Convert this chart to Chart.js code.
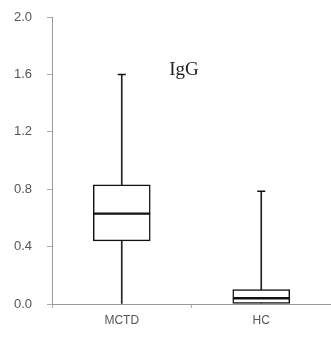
<!DOCTYPE html>
<html lang="en">
<head>
  <meta charset="UTF-8">
  <title>IgG box plot</title>
  <script src="https://cdn.jsdelivr.net/npm/chart.js"></script>
  <style>
    html, body {
      margin: 0;
      padding: 0;
      background: #ffffff;
    }
    #wrap {
      width: 331px;
      height: 340px;
    }
  </style>
</head>
<body>
  <div id="wrap"><canvas id="box"></canvas></div>

  <script>
    // box plot values
    const groups = ["MCTD", "HC"];
    const mins = [0.0, 0.0];
    const q1 = [0.44, 0.0];
    const medians = [0.63, 0.04];
    const q3 = [0.83, 0.10];
    const maxs = [1.60, 0.785];
    const yTicks = [0.0, 0.4, 0.8, 1.2, 1.6, 2.0];
    const title = "IgG";

    const lower = groups.map((g, i) => [q1[i], medians[i]]);
    const upper = groups.map((g, i) => [medians[i], q3[i]]);
    const lowWhisker = groups.map((g, i) => [mins[i], q1[i]]);
    const highWhisker = groups.map((g, i) => [q3[i], maxs[i]]);

    // writes the title inside the plot area
    const titleText = {
      id: 'titleText',
      afterDraw(chart) {
        const { ctx, chartArea } = chart;
        ctx.save();
        ctx.font = '19px "Liberation Serif", "DejaVu Serif", serif';
        ctx.fillStyle = '#222';
        ctx.textAlign = 'center';
        ctx.textBaseline = 'middle';
        ctx.fillText(title, chartArea.left + 132, chartArea.top + 53);
        ctx.restore();
      }
    };

    const whiskerStyle = {
      backgroundColor: '#222',
      borderWidth: 0,
      barThickness: 1,
      grouped: false
    };
    const boxStyle = {
      backgroundColor: '#ffffff',
      borderColor: '#111',
      borderWidth: 1.5,
      borderSkipped: false,
      barThickness: 57,
      grouped: false
    };

    new Chart(document.getElementById("box"), {
      type: 'bar',
      data: {
        labels: groups,
        datasets: [
          Object.assign({ label: "low", data: lowWhisker, order: 3 }, whiskerStyle),
          Object.assign({ label: "high", data: highWhisker, order: 3 }, whiskerStyle),
          Object.assign({ label: "q1-median", data: lower, order: 1 }, boxStyle),
          Object.assign({ label: "median-q3", data: upper, order: 1 }, boxStyle),
          {
            type: 'line',
            label: "cap",
            data: maxs,
            showLine: false,
            pointStyle: 'line',
            pointRadius: 4,
            pointBorderColor: '#111',
            pointBorderWidth: 1.5,
            order: 0
          }
        ]
      },
      options: {
        responsive: true,
        maintainAspectRatio: false,
        animation: false,
        events: [],
        // cap points would otherwise add padding on the right
        layout: { autoPadding: false, padding: { top: 17, right: 0, left: 0, bottom: 0 } },
        plugins: {
          legend: { display: false },
          tooltip: { enabled: false }
        },
        scales: {
          x: {
            offset: true,
            grid: {
              offset: true,
              drawOnChartArea: false,
              tickLength: 4,
              color: '#aaa'
            },
            border: { color: '#999', width: 1 },
            ticks: {
              color: '#555',
              padding: 5,
              font: { family: 'Arial, "Liberation Sans", sans-serif', size: 12 }
            },
            afterFit(scale) {
              scale.height = 36;
              scale.paddingLeft = 0;
              scale.paddingRight = 0;
            }
          },
          y: {
            min: 0,
            max: 2,
            afterBuildTicks(scale) {
              scale.ticks = yTicks.map(v => ({ value: v }));
            },
            grid: {
              drawOnChartArea: false,
              tickLength: 5,
              color: '#aaa'
            },
            border: { color: '#999', width: 1 },
            ticks: {
              color: '#555',
              padding: 15,
              font: { family: 'Arial, "Liberation Sans", sans-serif', size: 13 },
              callback: v => Number(v).toFixed(1)
            },
            afterFit(scale) {
              scale.width = 52;
              scale.paddingTop = 0;
              scale.paddingBottom = 0;
            }
          }
        }
      },
      plugins: [titleText]
    });
  </script>
</body>
</html>
